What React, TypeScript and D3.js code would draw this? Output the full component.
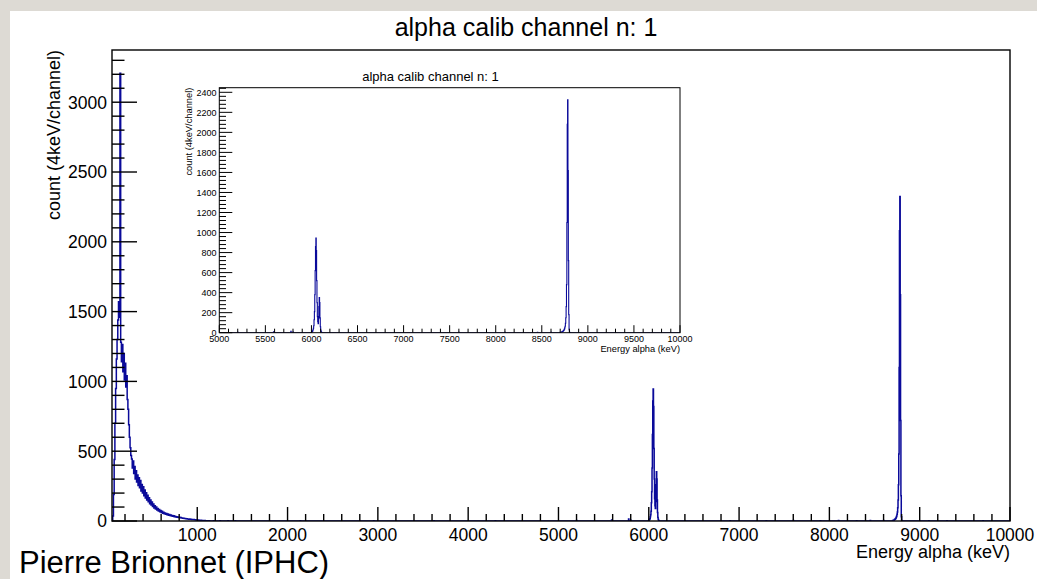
import React from "react";
import * as d3 from "d3";

// ---------- text ----------
const TITLE = "alpha calib channel n: 1";
const X_TITLE = "Energy alpha (keV)";
const Y_TITLE = "count (4keV/channel)";
const CREDIT = "Pierre Brionnet (IPHC)";

// ---------- data (counts per bin) ----------
// low-energy continuum, 8 keV wide bins starting at 56 keV
const lowStart = 56;
const lowWidth = 8;
const lowCounts = [
  0, 35, 190, 440, 700, 950, 1160, 1300, 1440, 1571,
  1460, 3207, 1280, 1140, 1265, 1070, 1200, 1010, 1130, 960,
  1040, 870, 800, 690, 600, 525, 470, 445, 380, 430,
  340, 390, 300, 360, 280, 330, 255, 310, 238, 290,
  215, 262, 200, 245, 180, 222, 165, 202, 150, 184,
  138, 166, 124, 150, 114, 136, 104, 122, 94, 110,
  86, 100, 78, 90, 72, 82, 66, 76, 60, 70,
  56, 62, 52, 58, 48, 54, 45, 50, 42, 46,
  39, 43, 36, 40, 34, 37, 31, 34, 29, 31,
  27, 29, 25, 27, 23, 25, 21, 22, 19, 20,
  18, 18, 16, 17, 15, 15, 13, 14, 12, 12,
  11, 11, 10, 10, 9, 9, 8, 8, 7, 7,
  6, 6, 5, 5, 4, 4, 3, 3, 3, 2,
  2, 2, 1, 1, 1, 0,
];
// ~6050 keV doublet, 4 keV bins
const peakWidth = 4;
const peak6Start = 5996;
const peak6Counts = [
  2, 5, 8, 12, 18, 30, 45, 70, 130, 210,
  380, 620, 860, 946, 820, 520, 300, 160, 110, 90,
  140, 260, 352, 300, 150, 60, 25, 10, 4, 1,
];
// ~8780 keV peak, 4 keV bins
const peak8Start = 8700;
const peak8Counts = [
  3, 4, 5, 6, 8, 10, 12, 15, 18, 22,
  28, 36, 48, 65, 95, 150, 260, 480, 1100, 2080,
  2325, 1620, 720, 180, 30, 4, 1,
];
// isolated small bins (4 keV wide)
const blipEnergies = [1180, 1252, 1340, 1420, 2140, 2952, 3620, 4300, 5200, 5588, 5776, 5800, 6400, 6900, 7300, 7600, 7900, 8100, 8300, 8452, 8600, 9100, 9300, 9700];
const blipCounts = [2, 1, 1, 1, 1, 1, 1, 1, 3, 8, 14, 6, 2, 2, 2, 3, 2, 3, 2, 3, 3, 2, 1, 1];

// ---------- axes ----------
const mainXDomain = [56, 10000];
const mainYDomain = [0, 3374];
const mainXMajor = [1000, 2000, 3000, 4000, 5000, 6000, 7000, 8000, 9000, 10000];
const mainYMajor = [0, 500, 1000, 1500, 2000, 2500, 3000];
const insetXDomain = [5000, 10000];
const insetYDomain = [0, 2446];
const insetXMajor = [5000, 5500, 6000, 6500, 7000, 7500, 8000, 8500, 9000, 9500, 10000];
const insetYMajor = [0, 200, 400, 600, 800, 1000, 1200, 1400, 1600, 1800, 2000, 2200, 2400];

type Bin = { x0: number; x1: number; y: number };

function buildBins(): Bin[] {
  const bins: Bin[] = [];
  lowCounts.forEach((c, i) => bins.push({ x0: lowStart + i * lowWidth, x1: lowStart + (i + 1) * lowWidth, y: c }));
  peak6Counts.forEach((c, i) => bins.push({ x0: peak6Start + i * peakWidth, x1: peak6Start + (i + 1) * peakWidth, y: c }));
  peak8Counts.forEach((c, i) => bins.push({ x0: peak8Start + i * peakWidth, x1: peak8Start + (i + 1) * peakWidth, y: c }));
  blipEnergies.forEach((e, i) => bins.push({ x0: e, x1: e + peakWidth, y: blipCounts[i] }));
  bins.sort((a, b) => a.x0 - b.x0);
  return bins;
}

function stepPoints(bins: Bin[], lo: number, hi: number): [number, number][] {
  const pts: [number, number][] = [[lo, 0]];
  let prev = lo;
  for (const b of bins) {
    if (b.x0 > prev) {
      pts.push([prev, 0]);
      pts.push([b.x0, 0]);
    }
    pts.push([b.x0, b.y]);
    pts.push([b.x1, b.y]);
    prev = b.x1;
  }
  pts.push([prev, 0]);
  pts.push([hi, 0]);
  return pts;
}

const FONT = "'Liberation Sans', Arial, Helvetica, sans-serif";
const LINE = "#0a0a9a";

function Panel(props: {
  L: number; R: number; T: number; B: number;
  xDomain: number[]; yDomain: number[];
  xMajor: number[]; yMajor: number[];
  xMinorStep: number; yMinorStep: number;
  xMajLen: number; xMinLen: number; yMajLen: number; yMinLen: number;
  tickFont: number; xLabelY: number; yLabelX: number;
  titleFont: number; xTitleY: number; yTitleX: number;
  id: string; strokeW: number; lineW: number;
}) {
  const p = props;
  const x = d3.scaleLinear().domain(p.xDomain).range([p.L, p.R]);
  const y = d3.scaleLinear().domain(p.yDomain).range([p.B, p.T]);
  const bins = buildBins();
  const pts = stepPoints(bins, p.xDomain[0], p.xDomain[1]);
  const line = d3.line<[number, number]>().x((d) => x(d[0])).y((d) => y(d[1]));
  const xMinor = d3.range(Math.ceil(p.xDomain[0] / p.xMinorStep) * p.xMinorStep, p.xDomain[1] + 1e-6, p.xMinorStep).filter((v) => !p.xMajor.includes(v));
  const yMinor = d3.range(0, p.yDomain[1], p.yMinorStep).filter((v) => !p.yMajor.includes(v));
  return (
    <g>
      <defs>
        <clipPath id={p.id}>
          <rect x={p.L} y={p.T} width={p.R - p.L} height={p.B - p.T} />
        </clipPath>
      </defs>
      <path d={line(pts) || ""} fill="none" stroke={LINE} strokeWidth={p.lineW} clipPath={`url(#${p.id})`} />
      <rect x={p.L} y={p.T} width={p.R - p.L} height={p.B - p.T} fill="none" stroke="#000" strokeWidth={p.strokeW} />
      {p.xMajor.map((v) => (
        <line key={"xM" + v} x1={x(v)} x2={x(v)} y1={p.B} y2={p.B - p.xMajLen} stroke="#000" strokeWidth={p.strokeW} />
      ))}
      {xMinor.map((v) => (
        <line key={"xm" + v} x1={x(v)} x2={x(v)} y1={p.B} y2={p.B - p.xMinLen} stroke="#000" strokeWidth={p.strokeW} />
      ))}
      {p.yMajor.map((v) => (
        <line key={"yM" + v} x1={p.L} x2={p.L + p.yMajLen} y1={y(v)} y2={y(v)} stroke="#000" strokeWidth={p.strokeW} />
      ))}
      {yMinor.map((v) => (
        <line key={"ym" + v} x1={p.L} x2={p.L + p.yMinLen} y1={y(v)} y2={y(v)} stroke="#000" strokeWidth={p.strokeW} />
      ))}
      {p.xMajor.map((v) => (
        <text key={"xl" + v} x={x(v)} y={p.xLabelY} textAnchor="middle" fontSize={p.tickFont} fontFamily={FONT}>{v}</text>
      ))}
      {p.yMajor.map((v) => (
        <text key={"yl" + v} x={p.yLabelX} y={y(v)} dy="0.36em" textAnchor="end" fontSize={p.tickFont} fontFamily={FONT}>{v}</text>
      ))}
      <text x={p.R} y={p.xTitleY} textAnchor="end" fontSize={p.titleFont} fontFamily={FONT}>{X_TITLE}</text>
      <text transform={`translate(${p.yTitleX},${p.T}) rotate(-90)`} textAnchor="end" fontSize={p.titleFont} fontFamily={FONT}>{Y_TITLE}</text>
    </g>
  );
}

export default function App() {
  return (
    <svg width={1037} height={579} style={{ position: "absolute", left: 0, top: 0 }}>
      <rect x={0} y={0} width={1037} height={579} fill="#dddad4" />
      <rect x={10} y={11} width={1027} height={568} fill="#ffffff" />
      <text x={526} y={36} textAnchor="middle" fontSize={25} fontFamily={FONT}>{TITLE}</text>
      <Panel
        id="mainclip" L={112} R={1010} T={50} B={521}
        xDomain={mainXDomain} yDomain={mainYDomain}
        xMajor={mainXMajor} yMajor={mainYMajor}
        xMinorStep={200} yMinorStep={100}
        xMajLen={14} xMinLen={7} yMajLen={25} yMinLen={12.5}
        tickFont={17.5} xLabelY={541} yLabelX={107}
        titleFont={18} xTitleY={558} yTitleX={60}
        strokeW={1.4} lineW={1.5}
      />
      <rect x={178} y={62} width={515} height={296} fill="#ffffff" />
      <text x={430.5} y={80.7} textAnchor="middle" fontSize={13} fontFamily={FONT}>{TITLE}</text>
      <Panel
        id="insetclip" L={219.3} R={680} T={87.7} B={332.7}
        xDomain={insetXDomain} yDomain={insetYDomain}
        xMajor={insetXMajor} yMajor={insetYMajor}
        xMinorStep={100} yMinorStep={40}
        xMajLen={7.5} xMinLen={4} yMajLen={13} yMinLen={6.7}
        tickFont={9} xLabelY={342} yLabelX={216.5}
        titleFont={9.3} xTitleY={351.5} yTitleX={192}
        strokeW={1} lineW={1.1}
      />
      <text x={19} y={573} fontSize={31} fontFamily={FONT}>{CREDIT}</text>
    </svg>
  );
}
